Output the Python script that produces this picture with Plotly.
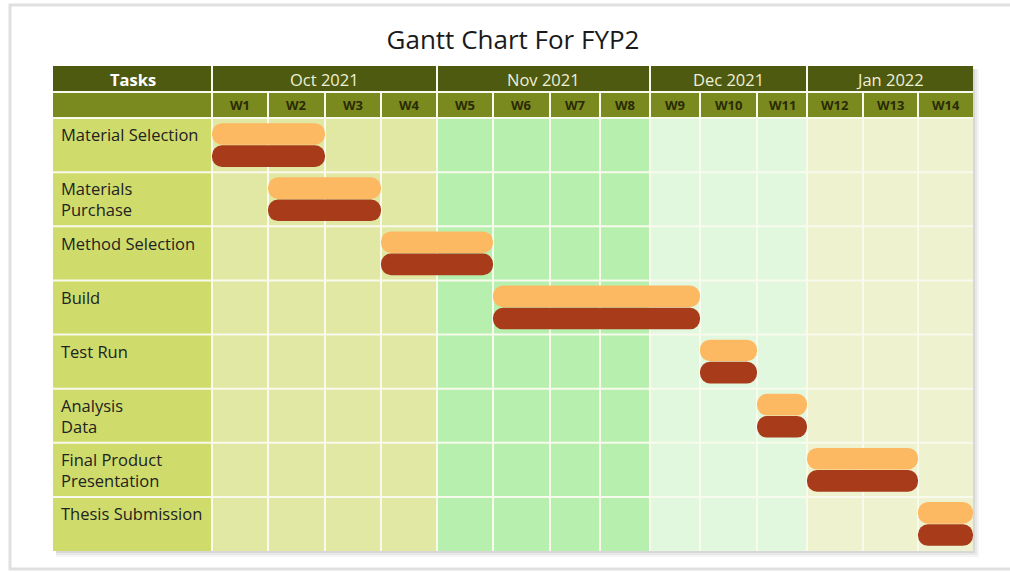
import plotly.graph_objects as go

# ---------------- data ----------------
tasks = ["Material Selection", "Materials<br>Purchase", "Method Selection", "Build",
         "Test Run", "Analysis<br>Data", "Final Product<br>Presentation", "Thesis Submission"]
plan_start = [1, 2, 4, 6, 10, 11, 12, 14]
plan_end = [2, 3, 5, 9, 10, 11, 13, 14]
actual_start = [1, 2, 4, 6, 10, 11, 12, 14]
actual_end = [2, 3, 5, 9, 10, 11, 13, 14]
months = ["Oct 2021", "Nov 2021", "Dec 2021", "Jan 2022"]
weeks_per_month = [4, 4, 3, 3]
week_labels = ["W1", "W2", "W3", "W4", "W5", "W6", "W7", "W8", "W9", "W10",
               "W11", "W12", "W13", "W14"]

# ---------------- layout / styles ----------------
# drawn widths of the table columns (layout, not data)
task_col_width = 159
week_col_widths = [56, 57, 56, 56, 56, 57, 50, 50, 50, 57, 50, 56, 55, 55]
edges = [0]
for cw in week_col_widths:
    edges.append(edges[-1] + cw)

month_colors = ["#e1e8a3", "#b7f0ae", "#e2f8de", "#eef2cf"]
task_col_color = "#cfdc6b"
hdr1_color = "#4f5a11"
hdr2_color = "#7b8a1e"
grid_color = "#f7faec"
plan_color = "#fdb961"
actual_color = "#a83b1a"
FONT = "Open Sans"

X0, X1 = -task_col_width, edges[-1]
HDR_TOP, HDR_MID, HDR_BOT = -1.461, -0.98, -0.5
Y_BOT = len(tasks) - 0.5

fig = go.Figure()

def add_series(starts, ends, color, offset, name):
    lefts = [edges[s - 1] for s in starts]
    durs = [edges[e] - edges[s - 1] for s, e in zip(starts, ends)]
    ys = list(range(len(tasks)))
    fig.add_trace(go.Bar(
        orientation="h", y=ys, base=lefts, x=durs,
        width=0.4, offset=offset,
        marker=dict(color=color, cornerradius="50%", line=dict(width=0)),
        name=name, showlegend=False, hoverinfo="skip"))

add_series(plan_start, plan_end, plan_color, -0.405, "Planned")
add_series(actual_start, actual_end, actual_color, 0.005, "Actual")

shapes = []
# outer frame + shadow
shapes.append(dict(type="rect", xref="paper", yref="paper",
                   x0=(10 - 53) / 920, x1=(1014 - 53) / 920,
                   y0=(551 - 569) / 485, y1=(551 - 5) / 485,
                   line=dict(color="#e0e0e0", width=3), fillcolor="rgba(0,0,0,0)", layer="below"))
for d, op in [(6, 0.04), (4, 0.05), (2, 0.07)]:
    shapes.append(dict(type="rect", xref="paper", yref="paper",
                       x0=(3) / 920, x1=1 + d / 920, y0=-d / 485, y1=1 - 3 / 485,
                       line=dict(width=0), fillcolor=f"rgba(0,0,0,{op})", layer="below"))

# backgrounds
shapes.append(dict(type="rect", x0=X0, x1=0, y0=HDR_BOT, y1=Y_BOT,
                   fillcolor=task_col_color, line=dict(width=0), layer="below"))
w = 0
month_bounds = []
for mi, n in enumerate(weeks_per_month):
    for k in range(n):
        shapes.append(dict(type="rect", x0=edges[w], x1=edges[w + 1], y0=HDR_BOT, y1=Y_BOT,
                           fillcolor=month_colors[mi], line=dict(width=0), layer="below"))
        w += 1
    month_bounds.append(w)
shapes.append(dict(type="rect", x0=X0, x1=X1, y0=HDR_TOP, y1=HDR_MID,
                   fillcolor=hdr1_color, line=dict(width=0), layer="below"))
shapes.append(dict(type="rect", x0=X0, x1=X1, y0=HDR_MID, y1=HDR_BOT,
                   fillcolor=hdr2_color, line=dict(width=0), layer="below"))

# grid lines
gl = dict(color=grid_color, width=2)
for yy in [HDR_MID, HDR_BOT] + [i + 0.5 for i in range(len(tasks) - 1)]:
    shapes.append(dict(type="line", x0=X0, x1=X1, y0=yy, y1=yy, line=gl, layer="below"))
shapes.append(dict(type="line", x0=0, x1=0, y0=HDR_TOP, y1=Y_BOT, line=gl, layer="below"))
for wb in month_bounds[:-1]:
    xb = edges[wb]
    shapes.append(dict(type="line", x0=xb, x1=xb, y0=HDR_TOP, y1=Y_BOT, line=gl, layer="below"))
for wb in range(1, len(week_labels)):
    if wb not in month_bounds:
        xb = edges[wb]
        shapes.append(dict(type="line", x0=xb, x1=xb, y0=HDR_MID, y1=Y_BOT, line=gl, layer="below"))

# annotations
ann = []
ymon = (HDR_TOP + HDR_MID) / 2
ywk = (HDR_MID + HDR_BOT) / 2
ann.append(dict(x=X0 / 2, y=ymon, text="<b>Tasks</b>", showarrow=False,
                font=dict(family=FONT, size=16.5, color="#ffffff")))
start = 0
for m, n in zip(months, weeks_per_month):
    ann.append(dict(x=(edges[start] + edges[start + n]) / 2, y=ymon, text=m, showarrow=False,
                    font=dict(family=FONT, size=16.5, color="#eef0d6")))
    start += n
for i, wl in enumerate(week_labels):
    ann.append(dict(x=(edges[i] + edges[i + 1]) / 2, y=ywk, text=f"<b>{wl}</b>", showarrow=False,
                    font=dict(family=FONT, size=13, color="#2a2a05")))
for i, t in enumerate(tasks):
    ann.append(dict(x=X0 + 6, y=i - 0.5 + 0.06, text=t, showarrow=False,
                    xanchor="left", yanchor="top", align="left",
                    font=dict(family=FONT, size=16.5, color="#222222")))

fig.update_layout(
    width=1010, height=572,
    margin=dict(l=53, r=37, t=66, b=21),
    paper_bgcolor="white", plot_bgcolor="white",
    barmode="overlay",
    title=dict(text="Gantt Chart For FYP2", x=0.5, xref="paper", xanchor="center",
               y=1 - 40 / 572, yref="container", yanchor="middle",
               font=dict(family=FONT, size=26, color="#1a1a1a")),
    xaxis=dict(range=[X0, X1], visible=False, showgrid=False, zeroline=False, fixedrange=True),
    yaxis=dict(range=[Y_BOT, HDR_TOP], visible=False, showgrid=False, zeroline=False, fixedrange=True),
    shapes=shapes, annotations=ann, showlegend=False,
)

fig.write_html("out.html", config={"displayModeBar": False},
               post_script="document.body.style.margin='0';")
